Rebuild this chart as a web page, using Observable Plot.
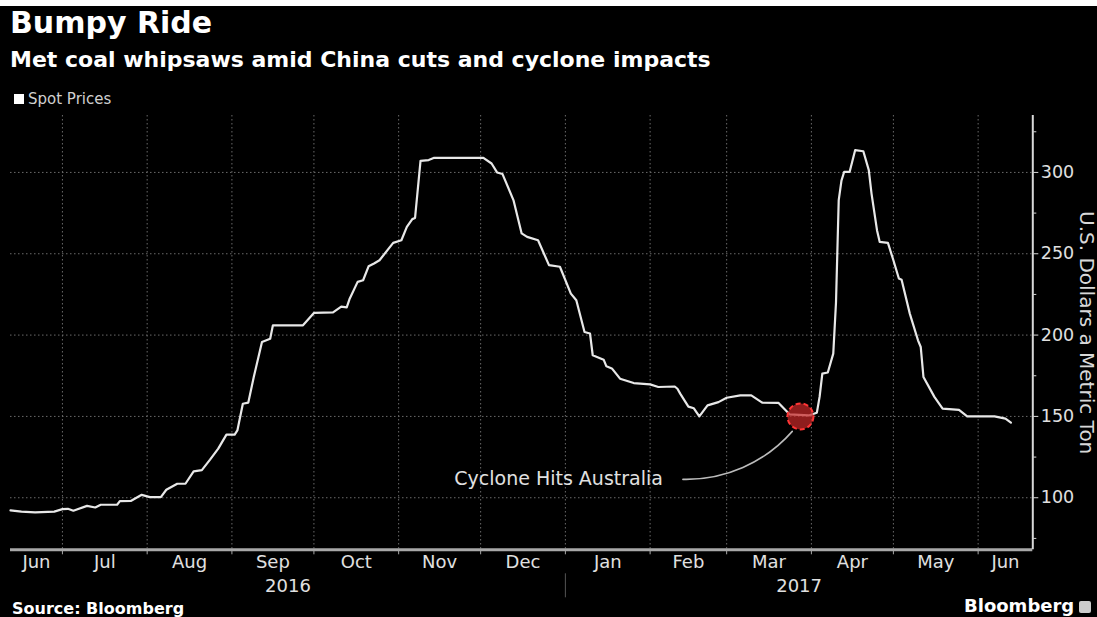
<!DOCTYPE html>
<html><head><meta charset="utf-8">
<script src="https://cdn.jsdelivr.net/npm/d3@7"></script>
<script src="https://cdn.jsdelivr.net/npm/@observablehq/plot@0.6"></script>
<style>
html,body{margin:0;padding:0;background:#000;width:1097px;height:617px;overflow:hidden;font-family:"DejaVu Sans",sans-serif;}
#strip{position:absolute;left:0;top:0;width:1097px;height:6px;background:#fff;}
#title{position:absolute;left:10px;top:4.6px;color:#fff;font-weight:bold;font-size:30px;line-height:36px;white-space:nowrap;}
#subtitle{position:absolute;left:10px;top:47.4px;color:#fff;font-weight:bold;font-size:22px;line-height:26px;white-space:nowrap;}
#legend{position:absolute;left:14px;top:89.8px;color:#d0d0d0;font-size:15px;line-height:18px;white-space:nowrap;}
#legend span.sw{display:inline-block;width:10px;height:10px;background:#fff;margin-right:4px;vertical-align:0px;}
#chart{position:absolute;left:0;top:108px;}
#source{position:absolute;left:12px;top:598.5px;color:#fff;font-weight:bold;font-size:16px;line-height:20px;white-space:nowrap;}
#brand{position:absolute;left:964px;top:596px;color:#fff;font-weight:bold;font-size:18px;line-height:20px;white-space:nowrap;}
#brand span.ic{display:inline-block;width:12px;height:12px;background:#ccc;border-radius:2px;margin-left:5px;vertical-align:-1px;}
</style></head>
<body>
<div id="strip"></div>
<div id="title">Bumpy Ride</div>
<div id="subtitle">Met coal whipsaws amid China cuts and cyclone impacts</div>
<div id="legend"><span class="sw"></span>Spot Prices</div>
<div id="chart"></div>
<div id="source">Source: Bloomberg</div>
<div id="brand">Bloomberg<span class="ic"></span></div>
<script>
const dates = [
"2016-06-12","2016-06-16","2016-06-21","2016-06-28","2016-07-01","2016-07-03","2016-07-05","2016-07-10",
"2016-07-13","2016-07-15","2016-07-21","2016-07-22","2016-07-26","2016-07-30","2016-08-02","2016-08-06",
"2016-08-08","2016-08-12","2016-08-15","2016-08-18","2016-08-21","2016-08-24","2016-08-27","2016-08-30",
"2016-09-02","2016-09-03","2016-09-05","2016-09-07","2016-09-09","2016-09-12","2016-09-15","2016-09-16",
"2016-09-27","2016-10-01","2016-10-08","2016-10-11","2016-10-13","2016-10-14","2016-10-17","2016-10-19",
"2016-10-21","2016-10-23","2016-10-25","2016-10-30","2016-11-02","2016-11-04","2016-11-06","2016-11-07",
"2016-11-09","2016-11-12","2016-11-14","2016-12-02","2016-12-05","2016-12-07","2016-12-09","2016-12-13",
"2016-12-16","2016-12-18","2016-12-22","2016-12-26","2016-12-30","2017-01-03","2017-01-05","2017-01-08",
"2017-01-10","2017-01-11","2017-01-15","2017-01-16","2017-01-18","2017-01-21","2017-01-26","2017-02-01",
"2017-02-04","2017-02-10","2017-02-11","2017-02-12","2017-02-15","2017-02-17","2017-02-19","2017-02-22",
"2017-02-26","2017-03-01","2017-03-06","2017-03-10","2017-03-14","2017-03-20","2017-03-24","2017-03-31",
"2017-04-03","2017-04-04","2017-04-05","2017-04-07","2017-04-09","2017-04-10","2017-04-11","2017-04-12",
"2017-04-13","2017-04-15","2017-04-17","2017-04-20","2017-04-22","2017-04-23","2017-04-25","2017-04-26",
"2017-04-29","2017-05-01","2017-05-03","2017-05-04","2017-05-07","2017-05-10","2017-05-11","2017-05-12",
"2017-05-16","2017-05-19","2017-05-25","2017-05-28","2017-06-07","2017-06-11","2017-06-13"
];
const prices = [
92.2,91.5,91.0,91.5,93.0,93.2,92.0,95.0,
94.0,95.7,95.7,97.9,98.0,101.8,100.4,100.4,
104.9,108.6,108.6,116.2,117.0,123.4,130.2,138.8,
138.8,141.4,157.8,158.5,174.2,195.8,197.8,206.0,
206.0,213.6,214.0,217.5,217.0,222.0,232.7,233.7,
242.3,244.0,246.0,256.7,258.3,266.5,271.3,272.0,
307.1,307.6,309.0,309.0,305.5,300.0,299.0,283.0,
262.5,260.4,258.3,243.0,242.0,225.5,221.4,201.9,
201.0,187.6,184.9,180.8,179.5,173.2,170.5,169.7,
168.1,168.4,167.0,164.0,156.0,155.0,150.0,156.8,
158.8,161.5,162.9,162.9,158.5,158.3,151.3,150.6,
152.3,162.0,176.3,177.0,188.6,220.0,283.0,295.0,
300.4,300.4,313.7,313.0,301.4,287.0,264.5,257.3,
256.7,246.0,234.8,234.0,213.2,196.8,192.7,174.2,
162.0,154.8,154.0,150.0,150.0,148.6,146.2
];
const xDomainDates = ["2016-06-12","2017-06-21"];
const yDomain = [68, 335];
const yTicks = [100, 150, 200, 250, 300];
const yMinorTicks = [75, 125, 175, 225, 275, 325];
const monthStartDates = ["2016-07-01","2016-08-01","2016-09-01","2016-10-01","2016-11-01","2016-12-01",
  "2017-01-01","2017-02-01","2017-03-01","2017-04-01","2017-05-01","2017-06-01"];
const yearLabels = ["2016","2017"];
const yearSplitDate = "2017-01-01";
const eventDates = ["2017-03-28"];
const eventPrices = [150];
const noteLabel = ["Cyclone Hits Australia"];
const noteFrom = [{date: "2017-02-13", price: 111.3}];
const noteTo = [{date: "2017-03-25", price: 140.8}];

const P = s => new Date(s);
const data = dates.map((d, i) => ({date: P(d), price: prices[i]}));
const xDomain = xDomainDates.map(P);
const monthStarts = monthStartDates.map(P);
const bounds = [xDomain[0], ...monthStarts, xDomain[1]];
const monthCenters = bounds.slice(0, -1).map((b, i) => new Date((+b + +bounds[i + 1]) / 2));
const split = P(yearSplitDate);
const years = [
  {year: yearLabels[0], date: new Date((+xDomain[0] + +split) / 2)},
  {year: yearLabels[1], date: new Date((+split + +xDomain[1]) / 2)}
];
const events = eventDates.map((d, i) => ({date: P(d), price: eventPrices[i]}));
const notes = noteLabel.map((l, i) => ({label: l, x1: P(noteFrom[i].date), y1: noteFrom[i].price, x2: P(noteTo[i].date), y2: noteTo[i].price}));
const fmt = d3.utcFormat("%b");

const chart = Plot.plot({
  width: 1097, height: 492,
  marginTop: 7, marginBottom: 50.7, marginLeft: 10, marginRight: 64.7,
  style: {background: "transparent", color: "#d8d8d8", fontFamily: "DejaVu Sans, sans-serif", fontSize: "17px", overflow: "visible"},
  x: {type: "utc", domain: xDomain},
  y: {domain: yDomain},
  marks: [
    Plot.gridX(monthStarts, {stroke: "#6a6a6a", strokeOpacity: 1, strokeDasharray: "1.5,2.5"}),
    Plot.gridY(yTicks, {stroke: "#6a6a6a", strokeOpacity: 1, strokeDasharray: "1.5,2.5"}),
    Plot.ruleY([yDomain[0]], {stroke: "#a8a8a8", strokeWidth: 3}),
    Plot.ruleX([xDomain[1]], {stroke: "#d8d8d8", strokeWidth: 2}),
    Plot.axisX(monthStarts, {tickSize: 5, tickFormat: () => "", stroke: "#a8a8a8"}),
    Plot.axisX(monthCenters, {tickSize: 0, tickPadding: 5, tickFormat: fmt, fontSize: 18, fill: "#e0e0e0"}),
    Plot.axisX([split], {tickSize: 24, dy: 24, tickFormat: () => "", stroke: "#555"}),
    Plot.text(years, {x: "date", text: "year", frameAnchor: "bottom", lineAnchor: "middle", dy: 36, fontSize: 18, fill: "#e0e0e0"}),
    Plot.axisY(yTicks, {anchor: "right", tickSize: 5, tickPadding: 3, fontSize: 17.5, fill: "#e0e0e0", stroke: "#d8d8d8"}),
    Plot.axisY(yMinorTicks, {anchor: "right", tickSize: 3, tickFormat: () => "", stroke: "#d8d8d8"}),
    Plot.text(["U.S. Dollars a Metric Ton"], {frameAnchor: "right", textAnchor: "middle", lineAnchor: "middle", rotate: 90, dx: 53.5, fontSize: 20, fill: "#d8d8d8"}),
    Plot.line(data, {x: "date", y: "price", stroke: "#e8e8e8", strokeWidth: 2.2}),
    Plot.arrow(notes, {x1: "x1", y1: "y1", x2: "x2", y2: "y2", bend: -25, headLength: 0, stroke: "#bbbbbb", strokeWidth: 1.6}),
    Plot.text(notes, {x: "x1", y: "y1", text: "label", textAnchor: "end", dx: -20, fontSize: 19, fill: "#e0e0e0"}),
    Plot.dot(events, {x: "date", y: "price", r: 13, fill: "#c62828", fillOpacity: 0.72, stroke: "#ff3535", strokeWidth: 2, strokeDasharray: "5,3"})
  ]
});
document.getElementById("chart").appendChild(chart);
</script>
</body></html>
